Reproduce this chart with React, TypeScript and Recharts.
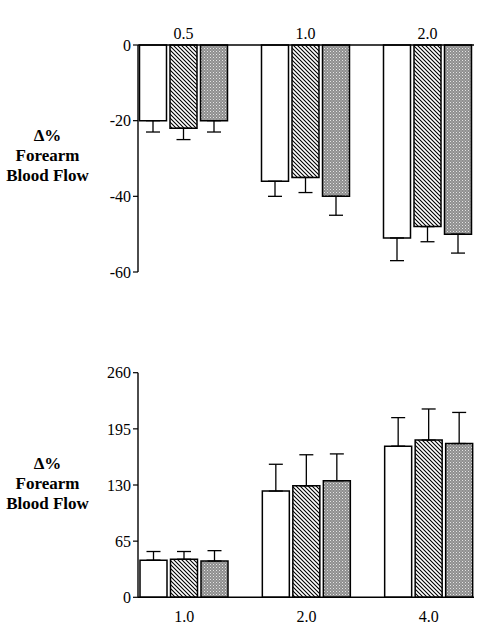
import React from 'react';
import { BarChart, Bar, XAxis, YAxis, ErrorBar } from 'recharts';

// Upper panel: vasoconstrictor doses, % change (negative)
const upperDoses = ['0.5', '1.0', '2.0'];
const upperOpen = [-20, -36, -51];
const upperOpenErr = [3, 4, 6];
const upperHatched = [-22, -35, -48];
const upperHatchedErr = [3, 4, 4];
const upperShaded = [-20, -40, -50];
const upperShadedErr = [3, 5, 5];
const upperTicks = [0, -20, -40, -60];

// Lower panel: vasodilator doses, % change (positive)
const lowerDoses = ['1.0', '2.0', '4.0'];
const lowerOpen = [43, 123, 175];
const lowerOpenErr = [10, 31, 33];
const lowerHatched = [44, 129, 182];
const lowerHatchedErr = [9, 36, 36];
const lowerShaded = [42, 135, 178];
const lowerShadedErr = [12, 31, 36];
const lowerTicks = [0, 65, 130, 195, 260];

const titleLines = ['\u0394%', 'Forearm', 'Blood Flow'];

const SERIF = "'Liberation Serif', Tinos, 'Times New Roman', 'DejaVu Serif', serif";

// error whiskers extend only away from zero
const buildRows = (
  doses: string[],
  a: number[], aErr: number[],
  b: number[], bErr: number[],
  c: number[], cErr: number[],
  downward: boolean,
) =>
  doses.map((dose, i) => {
    const w = (e: number) => (downward ? [e, 0] : [0, e]);
    return {
      dose,
      open: a[i], openErr: w(aErr[i]),
      hatched: b[i], hatchedErr: w(bErr[i]),
      shaded: c[i], shadedErr: w(cErr[i]),
    };
  });

const upperRows = buildRows(upperDoses, upperOpen, upperOpenErr, upperHatched, upperHatchedErr, upperShaded, upperShadedErr, true);
const lowerRows = buildRows(lowerDoses, lowerOpen, lowerOpenErr, lowerHatched, lowerHatchedErr, lowerShaded, lowerShadedErr, false);

const AxisTitle = (props: any) => {
  const vb = props.viewBox || {};
  const cx = 47.5;
  const y0 = (vb.y ?? 0) + 90;
  return (
    <text
      x={cx}
      y={y0}
      textAnchor="middle"
      dominantBaseline="central"
      style={{ fontFamily: SERIF, fontWeight: 'bold', fontSize: 17 }}
      fill="#000"
    >
      {titleLines.map((t, i) => (
        <tspan key={t} x={cx} y={y0 + i * 20}>
          {t}
        </tspan>
      ))}
    </text>
  );
};

const Patterns = () => (
  <defs>
    <pattern id="hatch" patternUnits="userSpaceOnUse" width="4" height="4">
      <rect width="4" height="4" fill="#fff" />
      <path d="M-1,-1 L5,5 M3,-1 L5,1 M-1,3 L1,5" stroke="#000" strokeWidth="1.1" />
    </pattern>
    <pattern id="stipple" patternUnits="userSpaceOnUse" width="3" height="3">
      <rect width="3" height="3" fill="#8e8e8e" />
      <rect x="0" y="0" width="1" height="1" fill="#e4e4e4" />
      <rect x="1.5" y="1.5" width="1" height="1" fill="#c8c8c8" />
    </pattern>
  </defs>
);

const tickStyle = { fontSize: 16, fill: '#000', style: { fontFamily: SERIF } };
const axisLine = { stroke: '#000', strokeWidth: 1.4 };

const bars = () => [
  <Bar key="open" dataKey="open" fill="#fff" stroke="#000" strokeWidth={1.5} isAnimationActive={false}>
    <ErrorBar dataKey="openErr" width={7} stroke="#000" strokeWidth={1.3} isAnimationActive={false} />
  </Bar>,
  <Bar key="hatched" dataKey="hatched" fill="url(#hatch)" stroke="#000" strokeWidth={1.5} isAnimationActive={false}>
    <ErrorBar dataKey="hatchedErr" width={7} stroke="#000" strokeWidth={1.3} isAnimationActive={false} />
  </Bar>,
  <Bar key="shaded" dataKey="shaded" fill="url(#stipple)" stroke="#000" strokeWidth={1.5} isAnimationActive={false}>
    <ErrorBar dataKey="shadedErr" width={7} stroke="#000" strokeWidth={1.3} isAnimationActive={false} />
  </Bar>,
];

export default function App() {
  return (
    <div style={{ position: 'absolute', left: 0, top: 0, width: 480, height: 634, background: '#fff', fontFamily: SERIF }}>
      <svg width="0" height="0" style={{ position: 'absolute' }}>
        <Patterns />
      </svg>
      <div style={{ position: 'absolute', left: 0, top: 0 }}>
        <BarChart
          width={480}
          height={300}
          data={upperRows}
          margin={{ top: 15, right: 6, left: 0, bottom: 28 }}
          barSize={27}
          barGap={3.5}
          style={{ fontFamily: SERIF }}
        >
          <XAxis
            dataKey="dose"
            orientation="top"
            height={30}
            axisLine={axisLine}
            tickLine={false}
            tickSize={6}
            tickMargin={0}
            tick={tickStyle}
            padding={{ left: -15.5, right: -14.5 }}
          />
          <YAxis
            width={138}
            domain={[-60, 0]}
            ticks={upperTicks}
            axisLine={axisLine}
            tickLine={{ stroke: '#000', strokeWidth: 1.2 }}
            tickSize={5}
            tickMargin={2}
            tick={tickStyle}
            label={{ content: AxisTitle }}
          />
          {bars()}
        </BarChart>
      </div>
      <div style={{ position: 'absolute', left: 0, top: 330 }}>
        <BarChart
          width={480}
          height={304}
          data={lowerRows}
          margin={{ top: 42.7, right: 6, left: 0, bottom: 6.7 }}
          barSize={27}
          barGap={3.5}
          style={{ fontFamily: SERIF }}
        >
          <XAxis
            dataKey="dose"
            height={30}
            axisLine={axisLine}
            tickLine={false}
            tickSize={6}
            tickMargin={7}
            tick={tickStyle}
            padding={{ left: -15, right: -16 }}
          />
          <YAxis
            width={138}
            domain={[0, 260]}
            ticks={lowerTicks}
            axisLine={axisLine}
            tickLine={{ stroke: '#000', strokeWidth: 1.2 }}
            tickSize={5}
            tickMargin={2}
            tick={tickStyle}
            label={{ content: AxisTitle }}
          />
          {bars()}
        </BarChart>
      </div>
    </div>
  );
}
